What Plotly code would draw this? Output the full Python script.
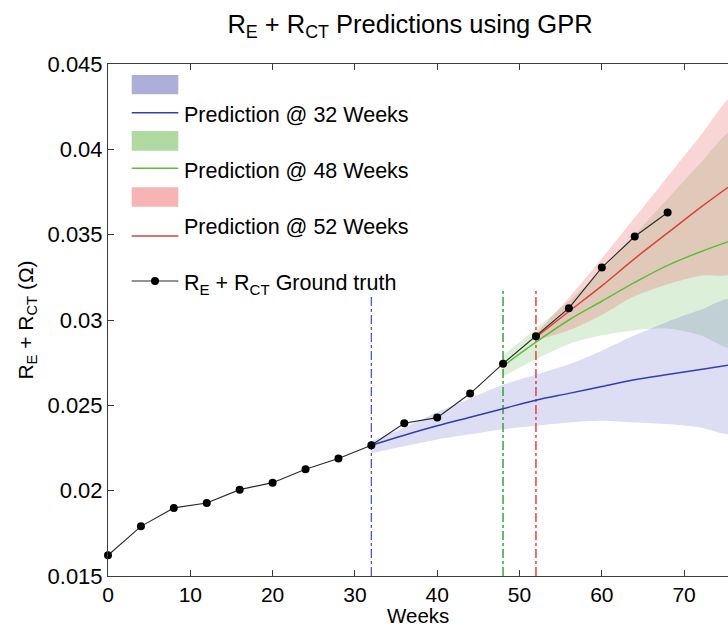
import plotly.graph_objects as go

# ---------------- data ----------------
weeks_truth = [0, 4, 8, 12, 16, 20, 24, 28, 32, 36, 40, 44, 48, 52, 56, 60, 64, 68]
truth = [0.01621, 0.01791, 0.01899, 0.01928, 0.02006, 0.02047, 0.02125, 0.02188,
         0.02266, 0.02395, 0.02428, 0.02569, 0.02744, 0.02905, 0.03069, 0.03307,
         0.03489, 0.03630]

weeks_32 = [32, 36, 40, 44, 48, 52, 56, 60, 64, 68, 72, 76]
mean_32 = [0.02266, 0.02325, 0.0238, 0.0243, 0.0248, 0.0253, 0.0257, 0.0261, 0.0265, 0.0268, 0.0271, 0.0274]
upper_32 = [0.0229, 0.0237, 0.0246, 0.0254, 0.0262, 0.0268, 0.0274, 0.0282, 0.0291, 0.0299, 0.0306, 0.0312]
lower_32 = [0.0222, 0.0226, 0.0230, 0.0233, 0.0236, 0.0238, 0.0240, 0.0241, 0.0240, 0.0239, 0.0237, 0.0234]

weeks_48 = [48, 52, 56, 60, 64, 68, 72, 76]
mean_48 = [0.0273, 0.0287, 0.0300, 0.0311, 0.0322, 0.0332, 0.0340, 0.0347]
upper_48 = [0.0279, 0.0295, 0.0311, 0.0329, 0.0350, 0.0371, 0.0392, 0.0411]
lower_48 = [0.0267, 0.0277, 0.0286, 0.0291, 0.0294, 0.0295, 0.0291, 0.0284]

weeks_52 = [52, 56, 60, 64, 68, 72, 76]
mean_52 = [0.0290, 0.0305, 0.0320, 0.0336, 0.0351, 0.0366, 0.0380]
upper_52 = [0.0292, 0.0313, 0.0336, 0.0360, 0.0384, 0.0408, 0.0431]
lower_52 = [0.0288, 0.0294, 0.0303, 0.0314, 0.0321, 0.0326, 0.0328]

split_weeks = [32, 48, 52]
split_top = [0.0314, 0.0317, 0.0317]

x_ticks = [0, 10, 20, 30, 40, 50, 60, 70]
y_ticks = [0.015, 0.02, 0.025, 0.03, 0.035, 0.04, 0.045]
y_tick_labels = ["0.015", "0.02", "0.025", "0.03", "0.035", "0.04", "0.045"]

x_title = "Weeks"
legend_labels = ["Prediction @ 32 Weeks", "Prediction @ 48 Weeks",
                 "Prediction @ 52 Weeks", "R<sub>E</sub> + R<sub>CT</sub> Ground truth"]

# ---------------- style ----------------
FONT = "Liberation Sans, Arial, sans-serif"
W, H = 728, 626
L, R, T, B = 108, 0, 64, 50
band_fill = ["rgba(85,85,200,0.20)", "rgba(90,180,70,0.21)", "rgba(235,100,100,0.27)"]
swatch = ["rgb(174,174,218)", "rgb(176,218,162)", "rgb(246,180,180)"]
mean_col = ["rgb(50,62,180)", "rgb(92,190,62)", "rgb(218,66,60)"]
split_col = ["rgb(70,90,210)", "rgb(30,150,30)", "rgb(230,40,40)"]

fig = go.Figure()

bands = [(weeks_48, upper_48, lower_48), (weeks_32, upper_32, lower_32), (weeks_52, upper_52, lower_52)]
fills = [band_fill[1], band_fill[0], band_fill[2]]
for (wk, up, lo), fc in zip(bands, fills):
    fig.add_trace(go.Scatter(x=wk + wk[::-1], y=up + lo[::-1], fill="toself", fillcolor=fc,
                             mode="lines", line=dict(width=0, shape="spline", smoothing=0.8),
                             hoverinfo="skip", showlegend=False))

for wk, top, c in zip(split_weeks, split_top, split_col):
    fig.add_trace(go.Scatter(x=[wk, wk], y=[y_ticks[0], top], mode="lines",
                             line=dict(color=c, width=1.3, dash="dashdot"), showlegend=False))

for (wk, mn), c, name in zip([(weeks_32, mean_32), (weeks_48, mean_48), (weeks_52, mean_52)],
                             mean_col, legend_labels[:3]):
    fig.add_trace(go.Scatter(x=wk, y=mn, mode="lines",
                             line=dict(color=c, width=1.5, shape="spline", smoothing=1.0),
                             name=name, showlegend=False))

fig.add_trace(go.Scatter(x=weeks_truth, y=truth, mode="lines+markers", name=legend_labels[3],
                         line=dict(color="rgb(40,40,40)", width=1.1),
                         marker=dict(color="black", size=8), cliponaxis=False, showlegend=False))

# ---------------- manual legend (pixel positions -> paper coords) ----------------
def xp(px):
    return (px - L) / (W - L - R)

def yp(py):
    return (H - B - py) / (H - T - B)

shapes = []
anns = []
sw_rows = [(75, 94.3), (131, 150.7), (187.3, 206.7)]
line_rows = [112.7, 168.3, 236]
text_rows = [115, 171, 227]
for i in range(3):
    y0, y1 = sw_rows[i]
    shapes.append(dict(type="rect", xref="paper", yref="paper", x0=xp(131.7), x1=xp(178.3),
                       y0=yp(y1), y1=yp(y0), fillcolor=swatch[i], line=dict(width=0)))
    shapes.append(dict(type="line", xref="paper", yref="paper", x0=xp(131.7), x1=xp(178.3),
                       y0=yp(line_rows[i]), y1=yp(line_rows[i]), line=dict(color=mean_col[i], width=1.5)))
    anns.append(dict(xref="paper", yref="paper", x=xp(182), y=yp(text_rows[i]), xanchor="left",
                     yanchor="middle", text=legend_labels[i], showarrow=False,
                     font=dict(family=FONT, size=21.5, color="black")))
shapes.append(dict(type="line", xref="paper", yref="paper", x0=xp(131.7), x1=xp(178.3),
                   y0=yp(281), y1=yp(281), line=dict(color="rgb(40,40,40)", width=1.2)))
shapes.append(dict(type="circle", xref="paper", yref="paper", x0=xp(151), x1=xp(159),
                   y0=yp(285), y1=yp(277), fillcolor="black", line=dict(width=0)))
anns.append(dict(xref="paper", yref="paper", x=xp(182), y=yp(284), xanchor="left",
                 yanchor="middle", text=legend_labels[3], showarrow=False,
                 font=dict(family=FONT, size=21.5, color="black")))
# x-axis title placed as an annotation for exact placement
anns.append(dict(xref="paper", yref="paper", x=xp(418), y=yp(615.5), xanchor="center",
                 yanchor="middle", text=x_title, showarrow=False, borderpad=0,
                 font=dict(family=FONT, size=20.5, color="black")))

fig.update_layout(
    width=W, height=H, margin=dict(l=L, r=R, t=T, b=B),
    paper_bgcolor="white", plot_bgcolor="white", showlegend=False,
    font=dict(family=FONT, size=22, color="black"),
    title=dict(text="R<sub>E</sub> + R<sub>CT</sub> Predictions using GPR",
               x=410 / W, xanchor="center", y=1 - 24 / H, yanchor="middle",
               font=dict(family=FONT, size=25.5, color="black")),
    shapes=shapes, annotations=anns,
)
fig.update_xaxes(range=[0, (W - L - R) / 8.23], tickvals=x_ticks, ticks="inside", ticklen=6,
                 tickcolor="rgb(60,60,60)", showline=True, linecolor="rgb(60,60,60)", linewidth=1,
                 mirror="ticks", showgrid=False, zeroline=False,
                 tickfont=dict(family=FONT, size=21))
fig.update_yaxes(range=[0.015, 0.045], tickvals=y_ticks, ticktext=y_tick_labels, ticks="inside",
                 ticklen=6, tickcolor="rgb(60,60,60)", showline=True, linecolor="rgb(60,60,60)",
                 linewidth=1, mirror=False, showgrid=False, zeroline=False,
                 tickfont=dict(family=FONT, size=22),
                 title=dict(text="R<sub>E</sub> + R<sub>CT</sub> (Ω)", standoff=8,
                            font=dict(family=FONT, size=21)))

fig.write_html("out.html")
